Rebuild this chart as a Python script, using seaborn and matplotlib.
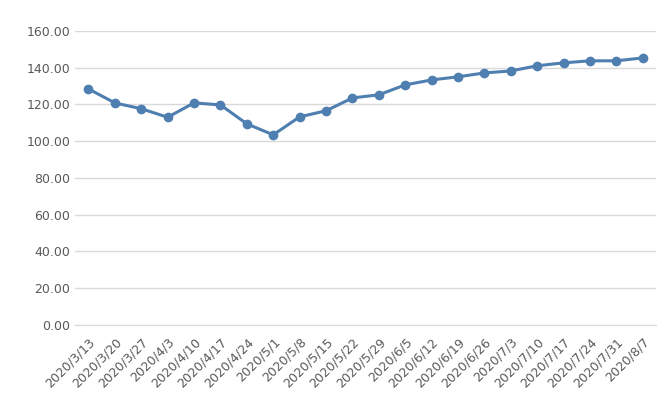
import matplotlib
matplotlib.use("Agg")
import matplotlib.pyplot as plt
import seaborn as sns
import pandas as pd

dates = ["2020/3/13","2020/3/20","2020/3/27","2020/4/3","2020/4/10","2020/4/17","2020/4/24",
         "2020/5/1","2020/5/8","2020/5/15","2020/5/22","2020/5/29","2020/6/5","2020/6/12",
         "2020/6/19","2020/6/26","2020/7/3","2020/7/10","2020/7/17","2020/7/24","2020/7/31","2020/8/7"]
values = [128.4,120.8,117.6,113.0,120.8,119.7,109.4,103.4,113.2,116.5,123.5,125.2,130.6,133.3,
          135.0,137.1,138.2,141.0,142.6,143.7,143.7,145.3]

sns.set_style("white")
df = pd.DataFrame({"x": range(len(dates)), "y": values})
fig, ax = plt.subplots(figsize=(6.66, 4.01), dpi=100)
fig.subplots_adjust(left=0.113, right=0.985, top=0.923, bottom=0.19)
sns.lineplot(data=df, x="x", y="y", ax=ax, color="#4f7fb0", linewidth=2.2,
             marker="o", markersize=7, markeredgewidth=0)
ax.set_ylim(0, 160)
ax.set_yticks(range(0, 161, 20))
ax.set_yticklabels([f"{v:.2f}" for v in range(0, 161, 20)], fontsize=9, color="#595959")
ax.set_xlim(-0.5, len(dates) - 0.5)
ax.set_xticks(range(len(dates)))
ax.set_xticklabels(dates, rotation=45, ha="right", rotation_mode="anchor", fontsize=9, color="#595959")
ax.grid(axis="y", color="#d9d9d9", linewidth=1)
for s in ["top", "right", "left"]:
    ax.spines[s].set_visible(False)
ax.spines["bottom"].set_color("#d9d9d9")
ax.tick_params(axis="x", length=4, color="#d9d9d9")
ax.tick_params(axis="y", length=0)
ax.set_xlabel("")
ax.set_ylabel("")
fig.savefig("out.png", dpi=100)
